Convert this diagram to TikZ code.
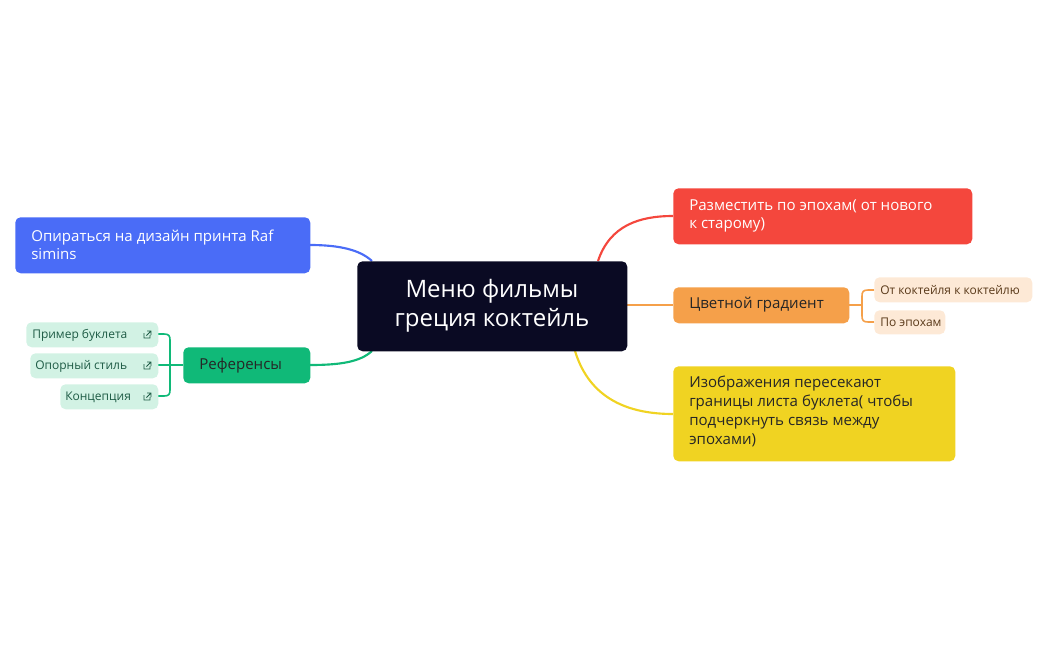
\documentclass[tikz,border=0pt]{standalone}
\usepackage{fontspec}
\setmainfont{Open Sans}
\definecolor{navy}{HTML}{0A0A23}
\definecolor{cred}{HTML}{F4473D}
\definecolor{corange}{HTML}{F5A04A}
\definecolor{corangel}{HTML}{FDE9D6}
\definecolor{corangetext}{HTML}{5A3A1A}
\definecolor{cyellow}{HTML}{F0D322}
\definecolor{cblue}{HTML}{4A6CF7}
\definecolor{cgreen}{HTML}{10B978}
\definecolor{cgreenl}{HTML}{D2F2E4}
\definecolor{cgreentext}{HTML}{1E5B45}
\begin{document}
\begin{tikzpicture}[x=0.75pt,y=-0.75pt,
  box/.style={rounded corners=4pt,inner sep=0pt,anchor=north west},
  txt/.style={anchor=west,align=left,inner sep=0pt},
  link/.style={line width=1.6pt},
  icon/.pic={\draw[line width=0.6pt,cgreentext] (-3,-1)--(-3,4)--(3,4)--(3,1) (0,-3)--(4,-3)--(4,1) (4,-3)--(-0.5,1.5);}]
\useasboundingbox (0,0) rectangle (1048,650);
% connectors
\draw[link,cred] (598,261) .. controls (610,225) and (640,216) .. (673,216);
\draw[link,cblue] (372,261) .. controls (360,250) and (340,245) .. (310,245);
\draw[link,corange] (627,305) -- (673,305);
\draw[link,cyellow] (575,351) .. controls (590,400) and (630,414) .. (673,414);
\draw[link,cgreen] (372,351) .. controls (360,362) and (340,365) .. (310,365);
\draw[line width=1.2pt,corange] (849,305) -- (862,305) (874,290) -- (868,290) .. controls (863,290) and (862,292) .. (862,296) -- (862,316) .. controls (862,320) and (863,322) .. (868,322) -- (874,322);
\draw[line width=1.2pt,cgreen] (183,365) -- (170,365) (158,334) -- (164,334) .. controls (169,334) and (170,336) .. (170,340) -- (170,390) .. controls (170,394) and (169,396) .. (164,396) -- (158,396) (158,365) -- (170,365);
% center
\node[box,fill=navy,minimum width=270*0.75pt,minimum height=90*0.75pt] (c) at (357,261) {};
\node[align=center,text=white,font=\fontsize{18}{22}\selectfont] (ct) at (492,306) {Меню фильмы\\ греция коктейль};
% red
\node[box,fill=cred,minimum width=299*0.75pt,minimum height=56*0.75pt] (r) at (673,188) {};
\node[txt,text=white,font=\fontsize{11.3}{13.5}\selectfont] (rt) at (689,216) {Разместить по эпохам( от нового\\к старому)};
% orange
\node[box,fill=corange,minimum width=176*0.75pt,minimum height=36*0.75pt] (o) at (673,287) {};
\node[txt,text=black!85,font=\fontsize{11.3}{13.5}\selectfont] (ot) at (689,305) {Цветной градиент};
\node[box,fill=corangel,minimum width=158*0.75pt,minimum height=25*0.75pt] (o1) at (874,277) {};
\node[txt,text=corangetext,font=\fontsize{9}{11}\selectfont] (o1t) at (880,290) {От коктейля к коктейлю};
\node[box,fill=corangel,minimum width=71*0.75pt,minimum height=24*0.75pt] (o2) at (874,310) {};
\node[txt,text=corangetext,font=\fontsize{9}{11}\selectfont] (o2t) at (880,322) {По эпохам};
% yellow
\node[box,fill=cyellow,minimum width=282*0.75pt,minimum height=95*0.75pt] (y) at (673,366) {};
\node[txt,text=black!85,font=\fontsize{11.3}{14.2}\selectfont,anchor=north west] (yt) at (689,376) {Изображения пересекают\\границы листа буклета( чтобы\\подчеркнуть связь между\\эпохами)};
% blue
\node[box,fill=cblue,minimum width=295*0.75pt,minimum height=56*0.75pt] (b) at (15,217) {};
\node[txt,text=white,font=\fontsize{11.3}{13.5}\selectfont] (bt) at (31,245) {Опираться на дизайн принта Raf\\simins};
% green
\node[box,fill=cgreen,minimum width=127*0.75pt,minimum height=36*0.75pt] (g) at (183,347) {};
\node[txt,text=black!85,font=\fontsize{11.3}{13.5}\selectfont] (gt) at (199,366) {Референсы};
\node[box,fill=cgreenl,minimum width=132*0.75pt,minimum height=25*0.75pt] (g1) at (26,322) {};
\node[txt,text=cgreentext,font=\fontsize{9}{11}\selectfont] (g1t) at (32,335) {Пример буклета};
\node[box,fill=cgreenl,minimum width=128*0.75pt,minimum height=25*0.75pt] (g2) at (30,353) {};
\node[txt,text=cgreentext,font=\fontsize{9}{11}\selectfont] (g2t) at (35,366) {Опорный стиль};
\node[box,fill=cgreenl,minimum width=98*0.75pt,minimum height=25*0.75pt] (g3) at (60,384) {};
\node[txt,text=cgreentext,font=\fontsize{9}{11}\selectfont] (g3t) at (65,397) {Концепция};
\pic at (147,334) {icon};
\pic at (147,365) {icon};
\pic at (147,396) {icon};
\end{tikzpicture}
\end{document}
